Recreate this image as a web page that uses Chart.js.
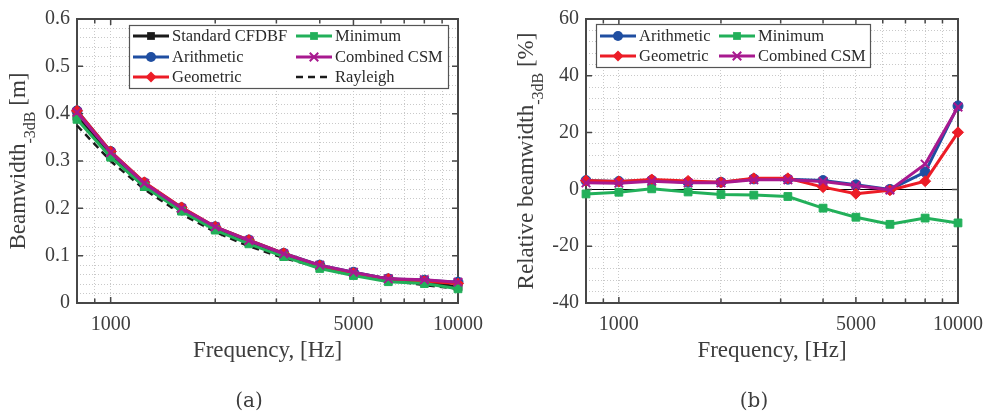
<!DOCTYPE html>
<html>
<head>
<meta charset="utf-8">
<script src="https://cdn.jsdelivr.net/npm/chart.js@4.4.1/dist/chart.umd.min.js"></script>
<style>
  html, body { margin: 0; padding: 0; background: #fff; }
  #wrap { position: relative; width: 993px; height: 414px; }
  #wrap canvas { position: absolute; left: 0; top: 0; }
</style>
</head>
<body>
<div id="wrap">
  <canvas id="panelA" width="993" height="414"></canvas>
  <canvas id="panelB" width="993" height="414"></canvas>
</div>
<script>
// Third-octave band centre frequencies [Hz]
const frequencies = [800, 1000, 1250, 1600, 2000, 2500, 3150, 4000, 5000, 6300, 8000, 10000];

// (a) -3 dB beamwidth [m]
const bwStandard   = [0.394, 0.311, 0.246, 0.196, 0.157, 0.128, 0.101, 0.078, 0.064, 0.051, 0.045, 0.034];
const bwArithmetic = [0.406, 0.320, 0.254, 0.201, 0.161, 0.133, 0.105, 0.080, 0.065, 0.051, 0.048, 0.044];
const bwGeometric  = [0.406, 0.320, 0.255, 0.202, 0.161, 0.133, 0.105, 0.079, 0.063, 0.051, 0.046, 0.041];
const bwMinimum    = [0.388, 0.308, 0.246, 0.194, 0.154, 0.125, 0.098, 0.073, 0.058, 0.045, 0.041, 0.030];
const bwCombined   = [0.403, 0.318, 0.253, 0.200, 0.161, 0.132, 0.104, 0.080, 0.065, 0.051, 0.049, 0.044];
const bwRayleigh   = [0.375, 0.300, 0.240, 0.188, 0.150, 0.120, 0.095, 0.075, 0.060, 0.048, 0.038, 0.030];

// (b) beamwidth relative to standard CFDBF [%]
const relArithmetic = [3.1, 2.8, 3.2, 2.5, 2.5, 3.7, 3.6, 3.1, 1.6, 0.0, 6.1, 29.4];
const relGeometric  = [3.1, 2.8, 3.5, 3.0, 2.5, 3.9, 3.9, 0.8, -1.5, -0.3, 2.9, 20.1];
const relMinimum    = [-1.6, -1.0, 0.2, -0.9, -1.8, -2.0, -2.5, -6.6, -9.8, -12.3, -10.1, -11.8];
const relCombined   = [2.3, 2.2, 2.9, 2.3, 2.3, 3.4, 3.4, 2.8, 1.4, -0.2, 8.9, 29.0];

// Axis ticks
const xGridValues  = [800, 900, 1000, 2000, 3000, 4000, 5000, 6000, 7000, 8000, 9000, 10000];
const xTickLabels  = [1000, 5000, 10000];
const yTicksA      = [0, 0.1, 0.2, 0.3, 0.4, 0.5, 0.6];
const yTickLabelsA = ['0', '0.1', '0.2', '0.3', '0.4', '0.5', '0.6'];
const yTicksB      = [-40, -20, 0, 20, 40, 60];
const yTickLabelsB = ['-40', '-20', '0', '20', '40', '60'];

const SERIF = '"Liberation Serif", "Times New Roman", serif';
const TEXT = '#3d3d3d';
const AXIS = '#474747';
const GRID = '#c9c9c9';
const COLORS = {
  standard: '#1a1a1a',
  arithmetic: '#1f4ea1',
  geometric: '#ec1c26',
  minimum: '#22b05a',
  combined: '#a8198f',
  rayleigh: '#1a1a1a'
};

function series(label, values, color, pointStyle, radius, order, dash) {
  return {
    label,
    data: frequencies.map((f, i) => ({ x: f, y: values[i] })),
    borderColor: color,
    backgroundColor: color,
    borderWidth: dash ? 2.5 : 3,
    borderDash: dash || [],
    pointStyle: pointStyle || false,
    pointRadius: pointStyle ? radius : 0,
    pointBackgroundColor: color,
    pointBorderColor: color,
    pointBorderWidth: pointStyle === 'crossRot' ? 2 : 1,
    tension: 0,
    fill: false,
    clip: false,
    order
  };
}

function drawMarker(ctx, style, x, y, r, color) {
  if (!style) return;
  ctx.save();
  ctx.fillStyle = color;
  ctx.strokeStyle = color;
  ctx.lineWidth = 1;
  ctx.beginPath();
  if (style === 'circle') {
    ctx.arc(x, y, r, 0, Math.PI * 2);
    ctx.fill();
  } else if (style === 'rect') {
    const s = r * Math.SQRT1_2;
    ctx.rect(x - s, y - s, 2 * s, 2 * s);
    ctx.fill();
  } else if (style === 'rectRot') {
    ctx.moveTo(x, y - r); ctx.lineTo(x + r, y); ctx.lineTo(x, y + r); ctx.lineTo(x - r, y);
    ctx.closePath();
    ctx.fill();
  } else if (style === 'crossRot') {
    const s = r * Math.SQRT1_2;
    ctx.lineWidth = 2;
    ctx.moveTo(x - s, y - s); ctx.lineTo(x + s, y + s);
    ctx.moveTo(x + s, y - s); ctx.lineTo(x - s, y + s);
    ctx.stroke();
  }
  ctx.restore();
}

// Frame, inward ticks, legend, axis titles and panel letter
function framePlugin(cfg) {
  return {
    id: 'frame' + cfg.letter,
    beforeDatasetsDraw(chart) {
      const { ctx, chartArea: a } = chart;
      const xs = chart.scales.x, ys = chart.scales.y;
      ctx.save();
      if (cfg.zeroLine) {
        const y0 = Math.round(ys.getPixelForValue(0)) + 0.5;
        ctx.strokeStyle = '#000';
        ctx.lineWidth = 1;
        ctx.beginPath(); ctx.moveTo(a.left, y0); ctx.lineTo(a.right, y0); ctx.stroke();
      }
      ctx.strokeStyle = AXIS;
      ctx.lineWidth = 2;
      ctx.strokeRect(a.left, a.top, a.right - a.left, a.bottom - a.top);
      ctx.lineWidth = 1.5;
      ctx.beginPath();
      xGridValues.forEach(v => {
        const px = xs.getPixelForValue(v);
        const len = xTickLabels.includes(v) ? 6 : 4.5;
        ctx.moveTo(px, a.bottom); ctx.lineTo(px, a.bottom - len);
        ctx.moveTo(px, a.top); ctx.lineTo(px, a.top + len);
      });
      cfg.yMajor.forEach(v => {
        const py = ys.getPixelForValue(v);
        ctx.moveTo(a.left, py); ctx.lineTo(a.left + 6, py);
        ctx.moveTo(a.right, py); ctx.lineTo(a.right - 6, py);
      });
      ctx.stroke();
      ctx.restore();
    },
    afterDatasetsDraw(chart) {
      const { ctx, chartArea: a } = chart;
      const L = cfg.legend;
      ctx.save();
      // legend box
      ctx.fillStyle = '#fff';
      ctx.fillRect(L.x, L.y, L.w, L.h);
      ctx.strokeStyle = '#555';
      ctx.lineWidth = 1.2;
      ctx.strokeRect(L.x + 0.5, L.y + 0.5, L.w, L.h);
      ctx.font = '16.5px ' + SERIF;
      ctx.textBaseline = 'middle';
      ctx.fillStyle = '#2a2a2a';
      L.items.forEach((idx, k) => {
        const ds = chart.data.datasets[idx];
        const col = Math.floor(k / L.rows), row = k % L.rows;
        const lx = L.cols[col], ly = L.rowY[row];
        ctx.save();
        ctx.strokeStyle = ds.borderColor;
        ctx.lineWidth = ds.borderWidth;
        ctx.setLineDash(ds.borderDash || []);
        ctx.beginPath(); ctx.moveTo(lx, ly); ctx.lineTo(lx + 36, ly); ctx.stroke();
        ctx.restore();
        drawMarker(ctx, ds.pointStyle, lx + 18, ly, ds.pointRadius, ds.borderColor);
        ctx.fillStyle = '#2a2a2a';
        ctx.fillText(ds.label, lx + 39, ly + 1);
      });

      // x axis title
      ctx.fillStyle = TEXT;
      ctx.font = '23px ' + SERIF;
      ctx.textAlign = 'center';
      ctx.textBaseline = 'alphabetic';
      ctx.fillText('Frequency, [Hz]', (a.left + a.right) / 2, 357);

      // panel letter
      ctx.font = '20px "DejaVu Serif", serif';
      ctx.textBaseline = 'middle';
      ctx.fillText(cfg.letter, cfg.letterX, 402);

      // y axis title with subscript
      const main = cfg.yTitle[0], sub = cfg.yTitle[1], tail = cfg.yTitle[2];
      ctx.font = '23px ' + SERIF;
      const wMain = ctx.measureText(main).width;
      const wTail = ctx.measureText(tail).width;
      ctx.font = '16px ' + SERIF;
      const wSub = ctx.measureText(sub).width;
      const total = wMain + wSub + wTail;
      ctx.translate(cfg.yTitleX, (a.top + a.bottom) / 2);
      ctx.rotate(-Math.PI / 2);
      ctx.textAlign = 'left';
      ctx.textBaseline = 'alphabetic';
      let x0 = -total / 2;
      ctx.font = '23px ' + SERIF;
      ctx.fillText(main, x0, 0);
      ctx.font = '16px ' + SERIF;
      ctx.fillText(sub, x0 + wMain, 9.5);
      ctx.font = '23px ' + SERIF;
      ctx.fillText(tail, x0 + wMain + wSub, 0);
      ctx.restore();
    }
  };
}

function makeOptions(p) {
  return {
    responsive: false,
    animation: false,
    events: [],
    layout: { padding: { left: p.padLeft, right: p.padRight, top: 15, bottom: 0 } },
    plugins: { legend: { display: false }, tooltip: { enabled: false } },
    scales: {
      x: {
        type: 'logarithmic',
        min: 800,
        max: 10000,
        afterBuildTicks: s => { s.ticks = xGridValues.map(v => ({ value: v })); },
        afterFit: s => { s.height = 111; },
        ticks: {
          autoSkip: false, maxRotation: 0, minRotation: 0, padding: 10,
          color: TEXT, font: { family: SERIF, size: 20 },
          callback: v => (xTickLabels.includes(v) ? String(v) : '')
        },
        grid: { color: GRID, lineWidth: 1, drawTicks: false },
        border: { display: false, dash: [1, 2] }
      },
      y: {
        type: 'linear',
        min: p.yMin,
        max: p.yMax,
        afterBuildTicks: s => { s.ticks = p.yGrid.map(v => ({ value: v })); },
        afterFit: s => { s.width = p.yWidth; },
        ticks: {
          autoSkip: false,
          padding: 7,
          color: TEXT, font: { family: SERIF, size: 20 },
          callback: v => {
            const i = p.yMajor.findIndex(m => Math.abs(m - v) < 1e-9);
            return i >= 0 ? p.yLabels[i] : '';
          }
        },
        grid: { color: GRID, lineWidth: 1, drawTicks: false },
        border: { display: false, dash: [1, 2] }
      }
    }
  };
}

// minor grid positions for the linear axes
const yGridA = [];
for (let i = 0; i <= 30; i++) yGridA.push(+(i * 0.02).toFixed(2));
const yGridB = [];
for (let v = -40; v <= 60; v += 4) yGridB.push(v);

// (a) absolute beamwidth
new Chart(document.getElementById('panelA'), {
  type: 'line',
  data: {
    datasets: [
      series('Standard CFDBF', bwStandard, COLORS.standard, 'rect', 5.5, 5),
      series('Arithmetic', bwArithmetic, COLORS.arithmetic, 'circle', 5, 4),
      series('Geometric', bwGeometric, COLORS.geometric, 'rectRot', 5.5, 3),
      series('Minimum', bwMinimum, COLORS.minimum, 'rect', 5.5, 2),
      series('Combined CSM', bwCombined, COLORS.combined, 'crossRot', 6, 1),
      series('Rayleigh', bwRayleigh, COLORS.rayleigh, null, 0, 6, [7, 5])
    ]
  },
  options: makeOptions({
    padLeft: 0, padRight: 993 - 458, yWidth: 77,
    yMin: 0, yMax: 0.6, yGrid: yGridA, yMajor: yTicksA, yLabels: yTickLabelsA
  }),
  plugins: [framePlugin({
    letter: '(a)', letterX: 249, zeroLine: false, yMajor: yTicksA,
    yTitle: ['Beamwidth', '-3dB', ' [m]'], yTitleX: 25,
    legend: { x: 129, y: 25, w: 319, h: 63, rows: 3, cols: [133, 296], rowY: [36, 57, 77], items: [0, 1, 2, 3, 4, 5] }
  })]
});

// (b) beamwidth relative to standard CFDBF
new Chart(document.getElementById('panelB'), {
  type: 'line',
  data: {
    datasets: [
      series('Arithmetic', relArithmetic, COLORS.arithmetic, 'circle', 5, 4),
      series('Geometric', relGeometric, COLORS.geometric, 'rectRot', 5.5, 3),
      series('Minimum', relMinimum, COLORS.minimum, 'rect', 5.5, 2),
      series('Combined CSM', relCombined, COLORS.combined, 'crossRot', 6, 1)
    ]
  },
  options: makeOptions({
    padLeft: 500, padRight: 993 - 964, yWidth: 86,
    yMin: -40, yMax: 60, yGrid: yGridB, yMajor: yTicksB, yLabels: yTickLabelsB
  }),
  plugins: [framePlugin({
    letter: '(b)', letterX: 754, zeroLine: true, yMajor: yTicksB,
    yTitle: ['Relative beamwidth', '-3dB', ' [%]'], yTitleX: 533,
    legend: { x: 596, y: 24, w: 274, h: 43, rows: 2, cols: [600, 719], rowY: [36, 56], items: [0, 1, 2, 3] }
  })]
});
</script>
</body>
</html>
